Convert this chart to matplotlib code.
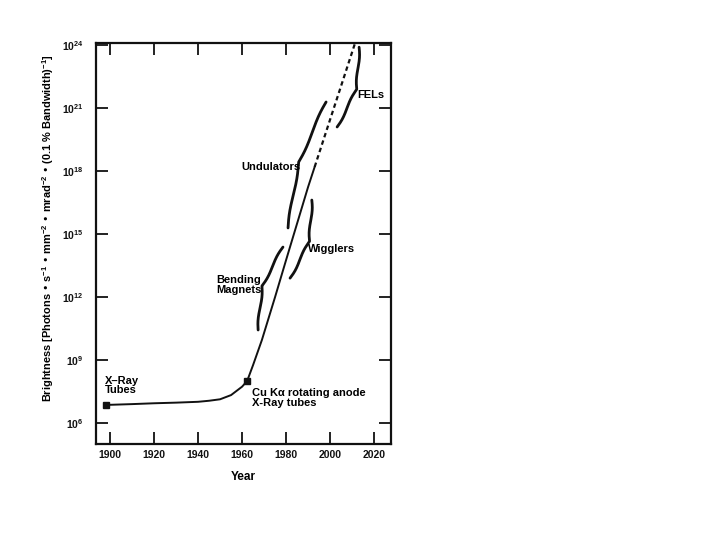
import numpy as np
import matplotlib
matplotlib.use("Agg")
import matplotlib.pyplot as plt
from matplotlib.ticker import NullLocator

plt.rcParams['font.family'] = ['Liberation Sans', 'DejaVu Sans']
plt.rcParams['font.weight'] = 'bold'
plt.rcParams['axes.labelweight'] = 'bold'
plt.rcParams['mathtext.default'] = 'regular'

# ---- data (log10 brightness) ----
solid_years = [1898, 1910, 1920, 1930, 1940, 1945, 1950, 1955, 1960, 1962.3,
               1965, 1969, 1975, 1980, 1985, 1990, 1993]
solid_logb = [6.86, 6.90, 6.94, 6.97, 7.01, 7.06, 7.13, 7.33, 7.73, 8.0,
              8.76, 9.95, 12.0, 13.76, 15.5, 17.24, 18.2]
dashed_years = [1993, 2000, 2005, 2012]
dashed_logb = [18.2, 20.45, 22.05, 24.3]
marker_years = [1898, 1962.3]
marker_logb = [6.86, 8.0]

x_ticks = [1900, 1920, 1940, 1960, 1980, 2000, 2020]
y_tick_exps = [6, 9, 12, 15, 18, 21, 24]

# braces: (bottom (year, logb), top (year, logb), side)
brace_names = ["Bending Magnets", "Wigglers", "Undulators", "FELs"]
brace_bottom = [(1967.3, 10.43), (1981.8, 12.9), (1980.9, 15.29), (2003.2, 20.1)]
brace_top = [(1978.6, 14.38), (1991.7, 16.62), (1998.2, 21.29), (2013.2, 23.9)]
brace_side = ["left", "right", "left", "right"]

fig = plt.figure(figsize=(7.2, 5.4), dpi=100)
ax = fig.add_axes([96/720, 1-444/540, (391-96)/720, (444-43)/540])
ax.set_yscale('log')
ax.set_xlim(1893.6, 2027.7)
ax.set_ylim(1e5, 10**24.1)

ax.plot(solid_years, 10**np.array(solid_logb), color='#111111', lw=1.4)
ax.plot(dashed_years, 10**np.array(dashed_logb), color='#111111', lw=1.6,
        linestyle=(0, (2.0, 1.5)))
ax.plot(marker_years, 10**np.array(marker_logb), linestyle='none', marker='s',
        ms=5, color='#111111')


def draw_brace(p0, p1, side, width_px=9.0, lw=2.0):
    T = ax.transData
    a = T.transform((p0[0], 10**p0[1]))
    b = T.transform((p1[0], 10**p1[1]))
    d = b - a
    L = np.hypot(*d)
    u = d / L
    n = np.array([-u[1], u[0]])
    if side == 'right':
        n = -n
    s = np.linspace(0, L, 301)
    h = L / 2
    beta = 7.0 / h
    sh = s[:151]
    yh = 1/(1+np.exp(-beta*(sh - 0))) + 1/(1+np.exp(-beta*(sh - h)))
    y = np.concatenate((yh, yh[-2::-1])) - 0.5
    pts = a + np.outer(s, u) + np.outer(y * width_px, n)
    back = T.inverted().transform(pts)
    ax.plot(back[:, 0], back[:, 1], color='#111111', lw=lw,
            solid_capstyle='round')


for b0, b1, sd in zip(brace_bottom, brace_top, brace_side):
    draw_brace(b0, b1, sd)

fs = 8
ax.text(2012.3, 10**21.6, "FELs", fontsize=fs, ha='left', va='center')
ax.text(1986.4, 10**18.19, "Undulators", fontsize=fs, ha='right', va='center')
ax.text(1990.0, 10**14.29, "Wigglers", fontsize=fs, ha='left', va='center')
ax.text(1948.2, 10**12.57, "Bending\nMagnets", fontsize=fs, ha='left', va='center',
        linespacing=0.9)
ax.text(1964.5, 10**7.19, "Cu K\u03b1 rotating anode\nX-Ray tubes", fontsize=fs,
        ha='left', va='center', linespacing=0.9)
ax.text(1897.7, 10**7.8, "X\u2013Ray\nTubes", fontsize=fs, ha='left', va='center',
        linespacing=0.9)

ax.set_xticks(x_ticks)
ax.set_xticklabels([str(v) for v in x_ticks])
ax.set_yticks([10.0**e for e in y_tick_exps])
ax.set_yticklabels([f"10$^{{{e}}}$" for e in y_tick_exps])
ax.yaxis.set_minor_locator(NullLocator())
ax.tick_params(direction='in', length=8.5, width=1.3, top=True, right=True,
               labelsize=7.5, colors='#111111')
ax.tick_params(axis='x', pad=4)
ax.tick_params(axis='y', pad=9)
for sp in ax.spines.values():
    sp.set_linewidth(1.6)
    sp.set_color('#111111')

ax.set_xlabel("Year", fontsize=8.5, labelpad=8)
ax.set_ylabel("Brightness [Photons \u2022 s$^{-1}$ \u2022 mm$^{-2}$ \u2022 mrad$^{-2}$ \u2022 "
              "(0.1 % Bandwidth)$^{-1}$]", fontsize=7.9)
ax.yaxis.set_label_coords(-0.136, 0.539)

fig.savefig("out.png", dpi=100)
